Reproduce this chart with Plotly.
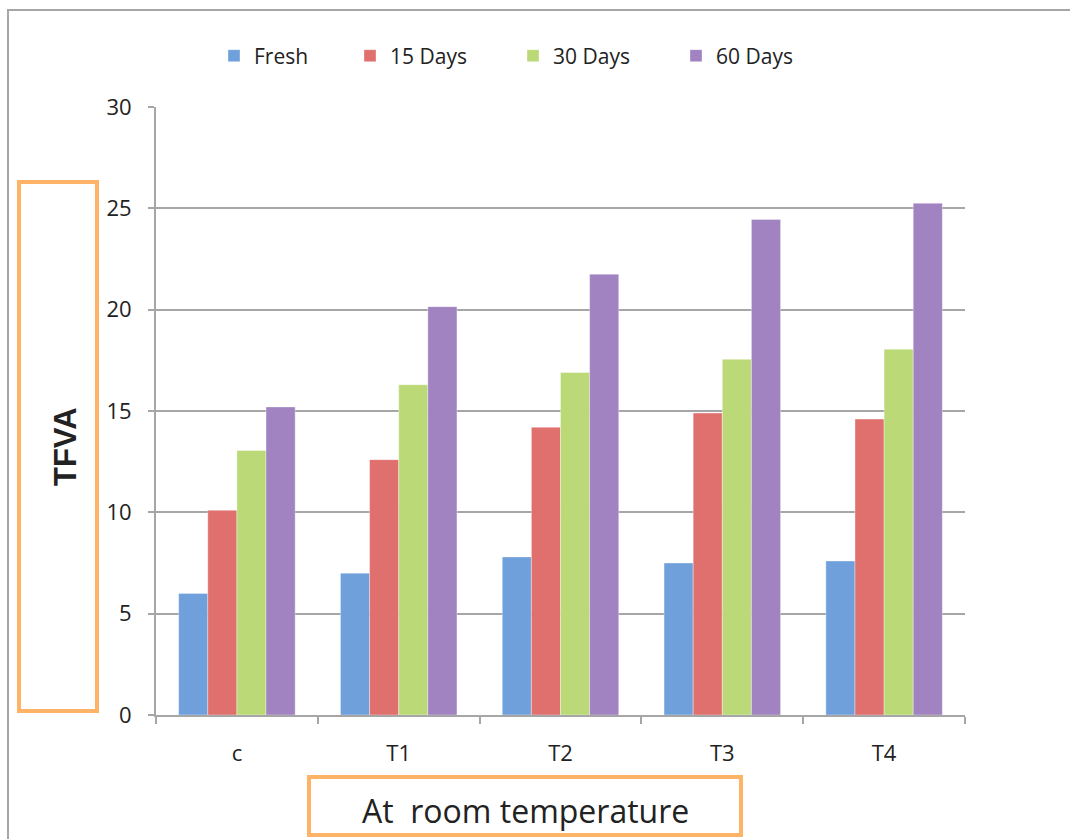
import plotly.graph_objects as go

# Treatments and storage periods
categories = ["c", "T1", "T2", "T3", "T4"]
fresh = [6.0, 7.0, 7.8, 7.5, 7.6]
days_15 = [10.1, 12.6, 14.2, 14.9, 14.6]
days_30 = [13.05, 16.3, 16.9, 17.55, 18.05]
days_60 = [15.2, 20.15, 21.75, 24.45, 25.25]

series = [
    ("Fresh", fresh, "#6FA0DB", "legend"),
    ("15 Days", days_15, "#E0706E", "legend2"),
    ("30 Days", days_30, "#BBDA77", "legend2"),
    ("60 Days", days_60, "#A083C0", "legend2"),
]

W, H = 1070, 839
L, R, T, B = 156, 105, 107, 124
pw, ph = W - L - R, H - T - B


def px(x):
    return (x - L) / pw


def py(y):
    return (H - B - y) / ph


fig = go.Figure()
for name, vals, color, leg in series:
    fig.add_trace(go.Bar(
        x=categories, y=vals, name=name, legend=leg, showlegend=True,
        marker=dict(color=color, line=dict(width=0.6, color="rgba(255,255,255,0.6)")),
    ))

grid = "#A6A6A6"
orange = "#FFB366"
txt = "#222222"

legend_style = dict(
    orientation="h", xanchor="left", y=py(56), yanchor="middle",
    font=dict(size=21, family="Open Sans", color=txt),
    itemwidth=30, bgcolor="rgba(0,0,0,0)", visible=True,
)

fig.update_layout(
    width=W, height=H,
    margin=dict(l=L, r=R, t=T, b=B),
    paper_bgcolor="white", plot_bgcolor="white",
    showlegend=True,
    barmode="group", bargap=0.28, bargroupgap=0,
    font=dict(family="Open Sans", color=txt),
    legend=dict(x=px(214), **legend_style),
    legend2=dict(x=px(350), entrywidth=118, entrywidthmode="pixels", **legend_style),
    xaxis=dict(
        showline=True, linecolor=grid, linewidth=2,
        ticks="outside", tickson="boundaries", ticklen=7, tickcolor=grid, tickwidth=2,
        tickfont=dict(size=22, color=txt), ticklabelstandoff=18,
        showgrid=False,
    ),
    yaxis=dict(
        range=[0, 30], dtick=5, tick0=0,
        showline=True, linecolor=grid, linewidth=2,
        ticks="outside", ticklen=6, tickcolor=grid, tickwidth=2,
        showgrid=True, gridcolor=grid, gridwidth=2,
        tickfont=dict(size=22, color=txt), ticklabelstandoff=12,
        zeroline=False,
    ),
    shapes=[
        # outer chart frame
        dict(type="rect", xref="paper", yref="paper",
             x0=px(8), x1=px(1080), y0=py(10), y1=py(850),
             line=dict(color=grid, width=2), layer="below"),
        # boxes around axis titles
        dict(type="rect", xref="paper", yref="paper",
             x0=px(19), x1=px(97), y0=py(182), y1=py(711),
             line=dict(color=orange, width=4)),
        dict(type="rect", xref="paper", yref="paper",
             x0=px(309), x1=px(741), y0=py(777), y1=py(835),
             line=dict(color=orange, width=4)),
    ],
    annotations=[
        dict(text="<b>TFVA</b>", xref="paper", yref="paper",
             x=px(65), y=py(447), textangle=-90, showarrow=False,
             font=dict(family="Liberation Sans", size=31, color=txt),
             xanchor="center", yanchor="middle"),
        dict(text="At  room temperature", xref="paper", yref="paper",
             x=px(525), y=py(810), showarrow=False,
             font=dict(family="Open Sans", size=32, color=txt),
             xanchor="center", yanchor="middle"),
    ],
)

fig.write_html("out.html")
